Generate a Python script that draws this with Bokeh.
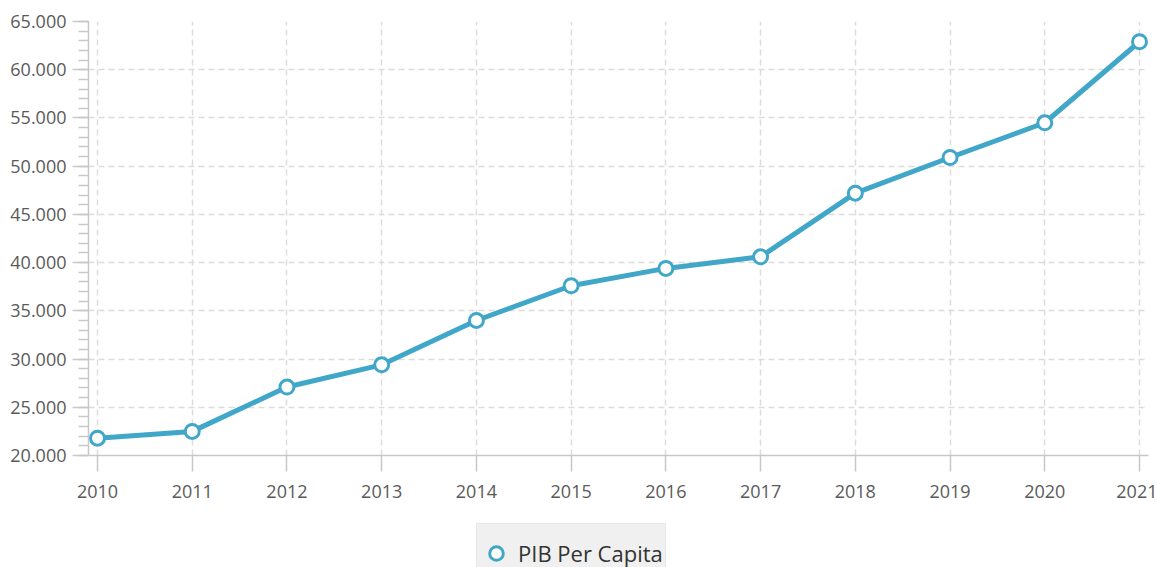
from bokeh.plotting import figure
from bokeh.layouts import column
from bokeh.models import Range1d, FixedTicker, Legend, LegendItem, ColumnDataSource
from bokeh.embed import file_html
from bokeh.resources import INLINE

years = [2010, 2011, 2012, 2013, 2014, 2015, 2016, 2017, 2018, 2019, 2020, 2021]
pib_per_capita = [21800, 22500, 27100, 29400, 34000, 37600, 39400, 40600, 47200, 50900, 54500, 62900]
y_ticks = [20000, 25000, 30000, 35000, 40000, 45000, 50000, 55000, 60000, 65000]
y_tick_labels = ["20.000", "25.000", "30.000", "35.000", "40.000", "45.000", "50.000", "55.000", "60.000", "65.000"]
series_name = "PIB Per Capita"

COLOR = "#41a7c9"
GRID = "#dcdcdc"
AXIS = "#c8c8c8"
FONT = "Open Sans"

src = ColumnDataSource(dict(x=years, y=pib_per_capita))

p = figure(width=1157, height=510, output_backend="svg", toolbar_location=None,
           x_range=Range1d(2009.905, 2021.095), y_range=Range1d(20000, 65000),
           min_border_left=88, min_border_right=9, min_border_top=21, min_border_bottom=55)
p.outline_line_color = None
p.background_fill_color = "white"
p.border_fill_color = "white"

line = p.line("x", "y", source=src, line_color=COLOR, line_width=5, line_join="round")
pts = p.scatter("x", "y", source=src, size=14, fill_color="white", line_color=COLOR, line_width=3)

# axes
p.xaxis.ticker = FixedTicker(ticks=years)
p.xaxis.major_label_overrides = {y: str(y) for y in years}
p.yaxis.ticker = FixedTicker(ticks=y_ticks,
                             minor_ticks=[v for v in range(20000, 65001, 1000)])
p.yaxis.major_label_overrides = dict(zip(y_ticks, y_tick_labels))
for ax in (p.xaxis[0], p.yaxis[0]):
    ax.axis_line_color = AXIS
    ax.axis_line_width = 1.5
    ax.major_tick_line_color = AXIS
    ax.major_tick_line_width = 1.5
    ax.major_tick_in = 0
    ax.major_tick_out = 16
    ax.major_label_text_font = FONT
    ax.major_label_text_font_size = "18px"
    ax.major_label_text_color = "#5a5a5a"
p.xaxis.major_label_standoff = 13
p.yaxis.major_label_standoff = 6
p.xaxis.minor_tick_line_color = None
p.yaxis.minor_tick_line_color = AXIS
p.yaxis.minor_tick_line_width = 1.5
p.yaxis.minor_tick_in = 0
p.yaxis.minor_tick_out = 10

p.xgrid.ticker = FixedTicker(ticks=years)
p.ygrid.ticker = FixedTicker(ticks=y_ticks)
for g in (p.xgrid[0], p.ygrid[0]):
    g.grid_line_color = GRID
    g.grid_line_width = 1.5
    g.grid_line_dash = "6 4"

# legend strip below the chart (its series points lie outside its view; only the legend shows)
p2 = figure(width=1157, height=57, output_backend="svg", toolbar_location=None,
            x_range=Range1d(0, 1), y_range=Range1d(0, 1),
            x_axis_location=None, y_axis_location=None,
            min_border_left=0, min_border_right=0, min_border_top=0, min_border_bottom=0)
p2.outline_line_color = None
p2.grid.visible = False
p2.border_fill_color = "white"
p2.background_fill_color = "white"
legend_pts = p2.scatter("x", "y", source=src, fill_color="white",
                        line_color=COLOR, line_width=3)

legend = Legend(items=[LegendItem(label=series_name, renderers=[legend_pts])],
                location=(388, -16), orientation="horizontal",
                label_text_font=FONT, label_text_font_size="22px", label_text_color="#333333",
                background_fill_color="#f0f0f0", background_fill_alpha=1.0,
                border_line_color="#dedede", border_line_width=1,
                padding=2, margin=0, glyph_width=34, glyph_height=40,
                label_height=54, label_standoff=5)
p2.add_layout(legend, "center")

open("out.html", "w").write(file_html(column(p, p2, spacing=0), INLINE))
